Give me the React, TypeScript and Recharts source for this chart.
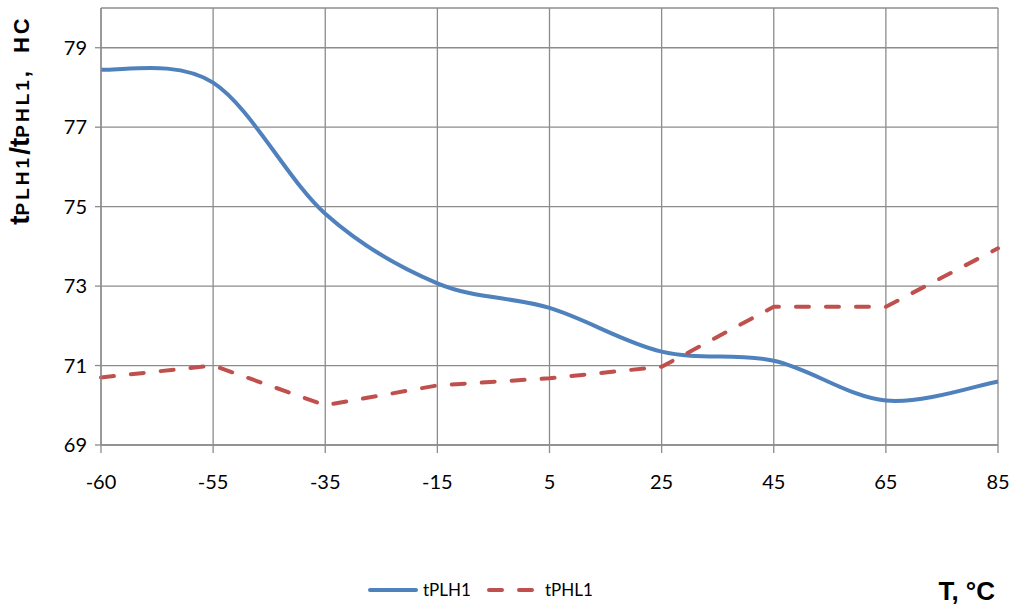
import React from "react";
import {
  LineChart,
  Line,
  XAxis,
  YAxis,
  CartesianGrid,
  Legend,
} from "recharts";

// temperature points (category axis, evenly spaced)
const temps = ["-60", "-55", "-35", "-15", "5", "25", "45", "65", "85"];
const tPLH1 = [78.45, 78.12, 74.82, 73.07, 72.45, 71.35, 71.12, 70.12, 70.6];
const tPHL1 = [70.7, 71.0, 70.0, 70.5, 70.68, 70.97, 72.48, 72.48, 73.95];
const yTicks = [69, 71, 73, 75, 77, 79];

const data = temps.map((t, i) => ({ t, tPLH1: tPLH1[i], tPHL1: tPHL1[i] }));

const GRID = "#8c8c8c";
const BLUE = "#4f81bd";
const RED = "#c0504d";

// Excel-like smoothing: Catmull-Rom style bezier through every point
function excelSmooth(context: any) {
  let pts: number[][] = [];
  return {
    areaStart() {},
    areaEnd() {},
    lineStart() {
      pts = [];
    },
    point(x: number, y: number) {
      pts.push([+x, +y]);
    },
    lineEnd() {
      const n = pts.length;
      if (!n) return;
      context.moveTo(pts[0][0], pts[0][1]);
      for (let i = 0; i < n - 1; i++) {
        const p0 = pts[Math.max(i - 1, 0)];
        const p1 = pts[i];
        const p2 = pts[i + 1];
        const p3 = pts[Math.min(i + 2, n - 1)];
        context.bezierCurveTo(
          p1[0] + (p2[0] - p0[0]) / 6,
          p1[1] + (p2[1] - p0[1]) / 6,
          p2[0] - (p3[0] - p1[0]) / 6,
          p2[1] - (p3[1] - p1[1]) / 6,
          p2[0],
          p2[1]
        );
      }
    },
  };
}

const YLabel = () => (
  <text
    transform="translate(29, 120) rotate(-90)"
    textAnchor="middle"
    fontFamily="Liberation Sans, Arial, sans-serif"
    fontWeight="bold"
    fill="#000"
  >
    <tspan fontSize={28}>t</tspan>
    <tspan fontSize={19} letterSpacing={3}>PLH1</tspan>
    <tspan fontSize={28}>/t</tspan>
    <tspan fontSize={19} letterSpacing={3}>PHL1</tspan>
    <tspan fontSize={22}>,</tspan>
    <tspan fontSize={22} dx={18} letterSpacing={3}>НС</tspan>
  </text>
);

const LegendBox = () => (
  <div style={{ position: "relative", height: 36, width: 1018 }}>
    <svg
      width={1018}
      height={36}
      style={{ position: "absolute", left: 0, top: 0 }}
    >
      <line x1={370} y1={18} x2={416} y2={18} stroke={BLUE} strokeWidth={4} strokeLinecap="round" />
      <text x={423} y={24} fontFamily="Lato, sans-serif" fontSize={17} fill="#000">
        tPLH1
      </text>
      <line x1={489} y1={18} x2={532} y2={18} stroke={RED} strokeWidth={4} strokeLinecap="round" strokeDasharray="13 17" />
      <text x={545} y={24} fontFamily="Lato, sans-serif" fontSize={17} fill="#000">
        tPHL1
      </text>
      <text
        x={995}
        y={28}
        textAnchor="end"
        fontFamily="Liberation Sans, Arial, sans-serif"
        fontWeight="bold"
        fontSize={26}
        fill="#000"
      >
        T, °C
      </text>
    </svg>
  </div>
);

export default function App() {
  return (
    <div style={{ position: "absolute", left: 0, top: 0, width: 1018, height: 612, background: "#fff" }}>
      <LineChart
        width={1018}
        height={612}
        data={data}
        margin={{ top: 8, right: 20, left: 0, bottom: 4 }}
      >
        <CartesianGrid stroke={GRID} strokeWidth={1.3} horizontal vertical />
        <XAxis
          dataKey="t"
          height={127}
          padding={{ left: 0, right: 0 }}
          scale="point"
          stroke={GRID}
          strokeWidth={1.3}
          tickSize={8}
          tickMargin={22}
          interval={0}
          tick={{ fill: "#000", fontSize: 20, fontFamily: "Lato, sans-serif" }}
        />
        <YAxis
          width={101}
          domain={[69, 80]}
          ticks={yTicks}
          stroke={GRID}
          strokeWidth={1.3}
          tickSize={6}
          tickMargin={8}
          tick={{ fill: "#000", fontSize: 20, fontFamily: "Lato, sans-serif" }}
          label={<YLabel />}
        />
        <Legend
          verticalAlign="bottom"
          align="left"
          wrapperStyle={{ height: 36, left: 0, width: 1018 }}
          content={() => <LegendBox />}
        />
        <Line
          dataKey="tPLH1"
          type={excelSmooth as any}
          stroke={BLUE}
          strokeWidth={4}
          dot={false}
          isAnimationActive={false}
        />
        <Line
          dataKey="tPHL1"
          type="linear"
          stroke={RED}
          strokeWidth={4}
          strokeDasharray="13 17"
          strokeLinecap="round"
          dot={false}
          isAnimationActive={false}
        />
      </LineChart>
    </div>
  );
}
